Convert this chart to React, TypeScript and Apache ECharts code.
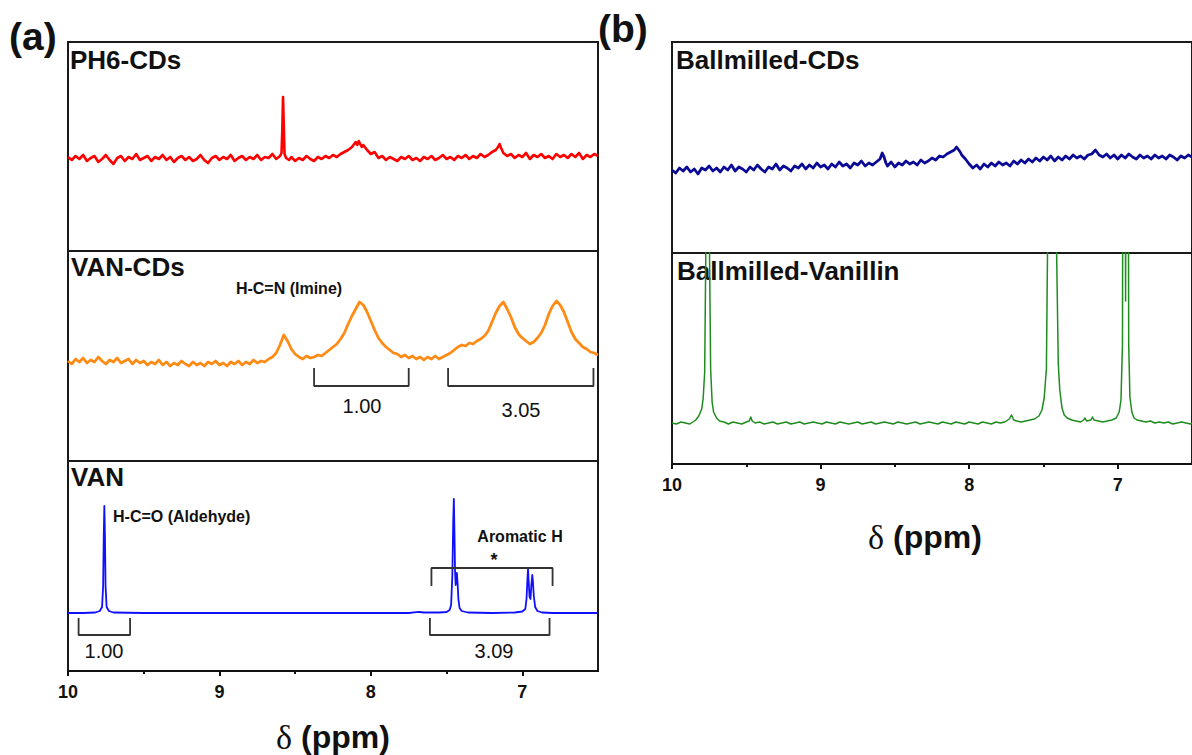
import React, { useEffect, useRef } from "react";
import * as echarts from "echarts";

// ---------------- data (ppm, intensity in arbitrary units) ----------------
const PPM_MIN = 6.5;
const PPM_MAX = 10;
const TICK_LABELS = [10, 9, 8, 7];
const MINOR_TICKS = [9.5, 8.5, 7.5];

const ph6CDs: number[][] = [
  [10.0, 94], [9.975, 91], [9.95, 95], [9.925, 92], [9.9, 96], [9.875, 90], [9.85, 93], [9.825, 95],
  [9.8, 89], [9.775, 92], [9.75, 96], [9.725, 91], [9.7, 87], [9.675, 93], [9.65, 95], [9.625, 90],
  [9.6, 94], [9.575, 92], [9.55, 97], [9.525, 91], [9.5, 93], [9.475, 95], [9.45, 90], [9.425, 94],
  [9.4, 92], [9.375, 96], [9.35, 91], [9.325, 94], [9.3, 89], [9.275, 93], [9.25, 95], [9.225, 91],
  [9.2, 94], [9.175, 90], [9.15, 92], [9.125, 96], [9.1, 91], [9.075, 88], [9.05, 93], [9.025, 95],
  [9.0, 91], [8.975, 94], [8.95, 92], [8.925, 96], [8.9, 90], [8.875, 93], [8.85, 95], [8.825, 91],
  [8.8, 94], [8.775, 92], [8.75, 96], [8.725, 91], [8.7, 94], [8.675, 93], [8.65, 97], [8.625, 92],
  [8.6, 95], [8.59, 98], [8.585, 120], [8.58, 154], [8.575, 125], [8.57, 97], [8.56, 93], [8.54, 91],
  [8.525, 94], [8.5, 90], [8.475, 93], [8.45, 91], [8.425, 95], [8.4, 92], [8.375, 90], [8.35, 94],
  [8.325, 92], [8.3, 95], [8.275, 93], [8.25, 96], [8.225, 94], [8.2, 97], [8.175, 99], [8.15, 101],
  [8.125, 104], [8.1, 109], [8.09, 106], [8.08, 110], [8.06, 104], [8.05, 106], [8.025, 101], [8.0, 97],
  [7.975, 99], [7.95, 93], [7.925, 95], [7.9, 91], [7.875, 94], [7.85, 92], [7.825, 90], [7.8, 94],
  [7.775, 92], [7.75, 95], [7.725, 91], [7.7, 93], [7.675, 90], [7.65, 94], [7.625, 92], [7.6, 95],
  [7.575, 91], [7.55, 93], [7.525, 96], [7.5, 92], [7.475, 94], [7.45, 91], [7.425, 95], [7.4, 93],
  [7.375, 96], [7.35, 92], [7.325, 95], [7.3, 93], [7.275, 97], [7.25, 94], [7.225, 96], [7.2, 99],
  [7.175, 101], [7.16, 104], [7.15, 107], [7.14, 103], [7.125, 98], [7.1, 95], [7.075, 97], [7.05, 93],
  [7.025, 96], [7.0, 94], [6.975, 98], [6.95, 92], [6.925, 96], [6.9, 94], [6.875, 97], [6.85, 93],
  [6.825, 95], [6.8, 92], [6.775, 97], [6.75, 94], [6.725, 96], [6.7, 93], [6.675, 97], [6.65, 94],
  [6.625, 98], [6.6, 92], [6.575, 96], [6.55, 94], [6.525, 97], [6.5, 95],
];

const vanCDs: number[][] = [
  [10.0, 100], [9.975, 97], [9.95, 102], [9.925, 99], [9.9, 103], [9.875, 98], [9.85, 101], [9.825, 99],
  [9.8, 104], [9.775, 100], [9.75, 97], [9.725, 101], [9.7, 99], [9.675, 103], [9.65, 98], [9.625, 100],
  [9.6, 102], [9.575, 97], [9.55, 101], [9.525, 98], [9.5, 100], [9.475, 96], [9.45, 99], [9.425, 97],
  [9.4, 101], [9.375, 96], [9.35, 99], [9.325, 95], [9.3, 98], [9.275, 96], [9.25, 100], [9.225, 97],
  [9.2, 95], [9.175, 99], [9.15, 96], [9.125, 98], [9.1, 95], [9.075, 99], [9.05, 97], [9.025, 100],
  [9.0, 96], [8.975, 98], [8.95, 95], [8.925, 99], [8.9, 97], [8.875, 100], [8.85, 96], [8.825, 99],
  [8.8, 97], [8.775, 101], [8.75, 98], [8.725, 100], [8.7, 99], [8.675, 102], [8.65, 104], [8.625, 108],
  [8.6, 116], [8.575, 126], [8.55, 120], [8.525, 112], [8.5, 107], [8.475, 104], [8.45, 102], [8.425, 105],
  [8.4, 103], [8.375, 104], [8.35, 106], [8.325, 105], [8.3, 108], [8.275, 111], [8.25, 114], [8.225, 117],
  [8.2, 122], [8.175, 128], [8.15, 137], [8.125, 145], [8.1, 152], [8.075, 159], [8.05, 156], [8.025, 149],
  [8.0, 140], [7.975, 131], [7.95, 123], [7.925, 118], [7.9, 114], [7.875, 111], [7.85, 108], [7.825, 107],
  [7.8, 104], [7.775, 106], [7.75, 103], [7.725, 105], [7.7, 102], [7.675, 104], [7.65, 101], [7.625, 104],
  [7.6, 102], [7.575, 105], [7.55, 102], [7.525, 104], [7.5, 106], [7.475, 108], [7.45, 111], [7.425, 114],
  [7.4, 116], [7.375, 115], [7.35, 118], [7.325, 117], [7.3, 120], [7.275, 122], [7.25, 125], [7.225, 130],
  [7.2, 139], [7.175, 148], [7.15, 155], [7.125, 159], [7.1, 152], [7.075, 144], [7.05, 134], [7.025, 127],
  [7.0, 123], [6.975, 120], [6.95, 117], [6.925, 119], [6.9, 123], [6.875, 128], [6.85, 136], [6.825, 147],
  [6.8, 155], [6.775, 160], [6.75, 156], [6.725, 149], [6.7, 139], [6.675, 129], [6.65, 122], [6.625, 118],
  [6.6, 114], [6.575, 112], [6.55, 109], [6.525, 108], [6.5, 106],
];

const van: number[][] = [
  [10.0, 58], [9.9, 58], [9.82, 58.5], [9.79, 60], [9.775, 64], [9.768, 85], [9.764, 135], [9.76, 165],
  [9.756, 135], [9.752, 85], [9.745, 64], [9.73, 60], [9.7, 58.5], [9.5, 58], [9.0, 58], [8.5, 58],
  [8.0, 58], [7.75, 58], [7.7, 58.8], [7.68, 59], [7.65, 58.5], [7.55, 58.5], [7.5, 59], [7.48, 61],
  [7.47, 66], [7.462, 95], [7.456, 150], [7.452, 172], [7.448, 140], [7.444, 100], [7.44, 86], [7.436, 94],
  [7.432, 98], [7.428, 90], [7.422, 72], [7.414, 63], [7.4, 60], [7.36, 58.5], [7.2, 58], [7.05, 58.5],
  [7.0, 59.5], [6.98, 62], [6.972, 72], [6.966, 92], [6.962, 102], [6.958, 90], [6.952, 74], [6.946, 72],
  [6.94, 86], [6.934, 96], [6.93, 90], [6.924, 75], [6.915, 64], [6.9, 60], [6.87, 58.5], [6.8, 58],
  [6.5, 58],
];

const ballmilledCDs: number[][] = [
  [10.0, 83], [9.975, 80], [9.95, 85], [9.925, 82], [9.9, 86], [9.875, 81], [9.85, 84], [9.825, 79],
  [9.8, 85], [9.775, 83], [9.75, 87], [9.725, 82], [9.7, 85], [9.675, 81], [9.65, 86], [9.625, 83],
  [9.6, 88], [9.575, 82], [9.55, 86], [9.525, 84], [9.5, 81], [9.475, 86], [9.45, 83], [9.425, 88],
  [9.4, 84], [9.375, 81], [9.35, 86], [9.325, 84], [9.3, 89], [9.275, 83], [9.25, 87], [9.225, 85],
  [9.2, 82], [9.175, 87], [9.15, 85], [9.125, 89], [9.1, 84], [9.075, 88], [9.05, 85], [9.025, 90],
  [9.0, 86], [8.975, 88], [8.95, 84], [8.925, 89], [8.9, 86], [8.875, 91], [8.85, 87], [8.825, 89],
  [8.8, 85], [8.775, 90], [8.75, 88], [8.725, 92], [8.7, 87], [8.675, 90], [8.65, 88], [8.625, 91],
  [8.6, 94], [8.585, 100], [8.575, 97], [8.56, 90], [8.55, 87], [8.525, 91], [8.5, 86], [8.475, 90],
  [8.45, 88], [8.425, 92], [8.4, 89], [8.375, 91], [8.35, 88], [8.325, 93], [8.3, 90], [8.275, 92],
  [8.25, 95], [8.225, 93], [8.2, 97], [8.175, 96], [8.15, 99], [8.125, 101], [8.1, 103], [8.085, 106],
  [8.075, 104], [8.06, 101], [8.05, 98], [8.025, 94], [8.0, 89], [7.975, 85], [7.95, 88], [7.925, 84],
  [7.9, 89], [7.875, 86], [7.85, 90], [7.825, 87], [7.8, 91], [7.775, 88], [7.75, 90], [7.725, 87],
  [7.7, 92], [7.675, 89], [7.65, 93], [7.625, 90], [7.6, 94], [7.575, 91], [7.55, 95], [7.525, 92],
  [7.5, 96], [7.475, 93], [7.45, 97], [7.425, 92], [7.4, 96], [7.375, 93], [7.35, 97], [7.325, 94],
  [7.3, 98], [7.275, 95], [7.25, 97], [7.225, 94], [7.2, 98], [7.175, 99], [7.15, 103], [7.14, 101],
  [7.125, 98], [7.1, 96], [7.075, 99], [7.05, 95], [7.025, 98], [7.0, 94], [6.975, 98], [6.95, 95],
  [6.925, 99], [6.9, 96], [6.875, 94], [6.85, 98], [6.825, 95], [6.8, 97], [6.775, 94], [6.75, 98],
  [6.725, 95], [6.7, 97], [6.675, 94], [6.65, 98], [6.625, 96], [6.6, 93], [6.575, 97], [6.55, 95],
  [6.525, 98], [6.5, 96],
];

const ballmilledVanillin: number[][] = [
  [10.0, 41], [9.97, 40], [9.94, 42], [9.91, 41], [9.88, 40], [9.86, 42], [9.84, 44], [9.82, 48],
  [9.8, 55], [9.79, 66], [9.78, 92], [9.772, 220], [9.765, 600], [9.755, 600], [9.748, 220], [9.74, 95],
  [9.73, 62], [9.72, 52], [9.7, 46], [9.68, 43], [9.65, 42], [9.62, 40], [9.59, 42], [9.56, 41],
  [9.53, 40], [9.5, 42], [9.48, 43], [9.47, 47], [9.46, 43], [9.44, 41], [9.41, 42], [9.38, 40],
  [9.35, 41], [9.32, 42], [9.29, 40], [9.26, 41], [9.23, 42], [9.2, 40], [9.17, 41], [9.14, 42],
  [9.11, 40], [9.08, 41], [9.05, 42], [9.02, 41], [8.99, 40], [8.96, 42], [8.93, 41], [8.9, 40],
  [8.87, 42], [8.84, 41], [8.81, 40], [8.78, 41], [8.75, 42], [8.72, 40], [8.69, 41], [8.66, 42],
  [8.63, 40], [8.6, 41], [8.57, 42], [8.54, 41], [8.51, 40], [8.48, 42], [8.45, 41], [8.42, 40],
  [8.39, 41], [8.36, 42], [8.33, 40], [8.3, 41], [8.27, 42], [8.24, 41], [8.21, 40], [8.18, 42],
  [8.15, 41], [8.12, 40], [8.09, 42], [8.06, 41], [8.03, 40], [8.0, 42], [7.97, 41], [7.94, 40],
  [7.91, 42], [7.88, 41], [7.85, 40], [7.82, 42], [7.79, 41], [7.76, 42], [7.73, 45], [7.715, 49],
  [7.7, 44], [7.68, 43], [7.65, 42], [7.62, 43], [7.59, 44], [7.56, 45], [7.53, 48], [7.51, 54],
  [7.495, 66], [7.48, 95], [7.47, 250], [7.46, 600], [7.43, 600], [7.415, 250], [7.4, 100], [7.39, 74],
  [7.375, 56], [7.36, 49], [7.34, 46], [7.31, 44], [7.28, 43], [7.25, 42], [7.23, 44], [7.22, 46],
  [7.21, 43], [7.18, 44], [7.17, 47], [7.16, 44], [7.13, 43], [7.1, 42], [7.07, 43], [7.04, 44],
  [7.01, 46], [6.99, 52], [6.978, 64], [6.968, 120], [6.962, 600], [6.953, 600], [6.947, 163], [6.941, 600],
  [6.933, 600], [6.926, 120], [6.918, 67], [6.905, 52], [6.89, 46], [6.87, 44], [6.84, 43], [6.81, 42],
  [6.78, 43], [6.75, 41], [6.72, 42], [6.69, 41], [6.66, 42], [6.63, 40], [6.6, 41], [6.57, 42],
  [6.54, 41], [6.51, 40], [6.5, 41],
];

// integration brackets (ppm, intensity units of their panel)
const vanCDsBracket1: number[][] = [[8.375, 93], [8.375, 75], [7.75, 75], [7.75, 93]];
const vanCDsBracket2: number[][] = [[7.49, 93], [7.49, 75], [6.53, 75], [6.53, 93]];
const vanAromaticBracket: number[][] = [[7.6, 85], [7.6, 103], [6.8, 103], [6.8, 85]];
const vanBracket1: number[][] = [[9.93, 53], [9.93, 36], [9.59, 36], [9.59, 53]];
const vanBracket2: number[][] = [[7.61, 53], [7.61, 36], [6.82, 36], [6.82, 53]];

// ---------------- chart ----------------
const FONT = "'Liberation Sans', Arial, Helvetica, sans-serif";

export default function App() {
  const ref = useRef<HTMLDivElement>(null);

  useEffect(() => {
    if (!ref.current) return;
    const chart = echarts.init(ref.current, undefined, { renderer: "svg" });

    const grids = [
      { left: 68, top: 42, width: 530, height: 209 },
      { left: 68, top: 251, width: 530, height: 210 },
      { left: 68, top: 461, width: 530, height: 210 },
      { left: 672, top: 42, width: 530, height: 211 },
      { left: 672, top: 253, width: 530, height: 211 },
    ];

    const mainX = (gridIndex: number, showAxis: boolean) => ({
      type: "value",
      gridIndex,
      min: PPM_MIN,
      max: PPM_MAX,
      inverse: true,
      position: "bottom",
      show: showAxis,
      splitLine: { show: false },
      axisLine: { show: showAxis, onZero: false, lineStyle: { color: "#111", width: 2 } },
      axisTick: {
        show: showAxis,
        customValues: TICK_LABELS,
        length: 5,
        inside: false,
        lineStyle: { color: "#111", width: 2 },
      },
      axisLabel: {
        show: showAxis,
        customValues: TICK_LABELS,
        margin: 12,
        fontFamily: FONT,
        fontWeight: "bold",
        fontSize: 18,
        color: "#111",
      },
    });

    const minorX = (gridIndex: number) => ({
      type: "value",
      gridIndex,
      min: PPM_MIN,
      max: PPM_MAX,
      inverse: true,
      position: "bottom",
      splitLine: { show: false },
      axisLine: { show: false, onZero: false },
      axisTick: {
        show: true,
        customValues: MINOR_TICKS,
        length: 3,
        lineStyle: { color: "#111", width: 2 },
      },
      axisLabel: { show: false },
    });

    const yAx = (gridIndex: number, max: number) => ({
      type: "value",
      gridIndex,
      min: 0,
      max,
      show: false,
      splitLine: { show: false },
    });

    const spec = (data: number[][], idx: number, color: string, width: number) => ({
      type: "line",
      xAxisIndex: idx,
      yAxisIndex: idx,
      data,
      symbol: "none",
      showSymbol: false,
      clip: true,
      silent: true,
      lineStyle: { color, width, join: "round" },
    });

    const bracket = (data: number[][], idx: number) => ({
      type: "line",
      xAxisIndex: idx,
      yAxisIndex: idx,
      data,
      symbol: "none",
      showSymbol: false,
      silent: true,
      lineStyle: { color: "#333", width: 1.8 },
    });

    const txt = (
      text: string,
      x: number,
      y: number,
      size: number,
      weight: string,
      align: string = "left"
    ) => ({
      type: "text",
      x,
      y,
      silent: true,
      style: {
        text,
        fontFamily: FONT,
        fontSize: size,
        fontWeight: weight,
        fill: "#111",
        align,
        verticalAlign: "middle",
      },
    });

    const axisTitle = (x: number, y: number) => ({
      type: "text",
      x,
      y,
      silent: true,
      style: {
        text: "{d|δ}{p|\u00a0(ppm)}",
        align: "center",
        verticalAlign: "middle",
        rich: {
          d: { fontFamily: "'Liberation Serif', 'DejaVu Serif', serif", fontSize: 34, fill: "#111" },
          p: { fontFamily: FONT, fontSize: 32, fontWeight: "bold", fill: "#111" },
        },
      },
    });

    const option = {
      animation: false,
      backgroundColor: "#ffffff",
      grid: grids.map((g) => ({
        ...g,
        show: true,
        borderColor: "#1a1a1a",
        borderWidth: 2,
        backgroundColor: "transparent",
        containLabel: false,
      })),
      xAxis: [
        mainX(0, false),
        mainX(1, false),
        mainX(2, true),
        mainX(3, false),
        mainX(4, true),
        minorX(2),
        minorX(4),
      ],
      yAxis: [yAx(0, 209), yAx(1, 210), yAx(2, 210), yAx(3, 211), yAx(4, 211)],
      series: [
        spec(ph6CDs, 0, "#ff0000", 2.6),
        spec(vanCDs, 1, "#ff8a14", 2.8),
        spec(van, 2, "#1010ff", 1.8),
        spec(ballmilledCDs, 3, "#0a0a96", 2.8),
        spec(ballmilledVanillin, 4, "#1e8c1e", 1.5),
        bracket(vanCDsBracket1, 1),
        bracket(vanCDsBracket2, 1),
        bracket(vanAromaticBracket, 2),
        bracket(vanBracket1, 2),
        bracket(vanBracket2, 2),
      ],
      graphic: [
        txt("(a)", 9, 36, 39, "bold"),
        txt("(b)", 598, 28, 39, "bold"),
        txt("PH6-CDs", 70, 60, 26, "bold"),
        txt("VAN-CDs", 71, 267, 26, "bold"),
        txt("VAN", 71, 477, 26, "bold"),
        txt("Ballmilled-CDs", 676, 60, 26, "bold"),
        txt("Ballmilled-Vanillin", 677, 271, 26, "bold"),
        txt("H-C=N (Imine)", 289, 288, 16, "bold", "center"),
        txt("H-C=O (Aldehyde)", 113, 516, 16, "bold"),
        txt("Aromatic H", 520, 536, 16, "bold", "center"),
        txt("*", 494, 560, 18, "bold", "center"),
        txt("1.00", 362, 406, 20, "normal", "center"),
        txt("3.05", 521, 410, 20, "normal", "center"),
        txt("1.00", 104, 651, 20, "normal", "center"),
        txt("3.09", 494, 651, 20, "normal", "center"),
        axisTitle(333, 737),
        axisTitle(925, 537),
      ],
    };

    chart.setOption(option as any);
    return () => chart.dispose();
  }, []);

  return (
    <div
      ref={ref}
      style={{ position: "absolute", left: 0, top: 0, width: 1192, height: 755, background: "#fff" }}
    />
  );
}
